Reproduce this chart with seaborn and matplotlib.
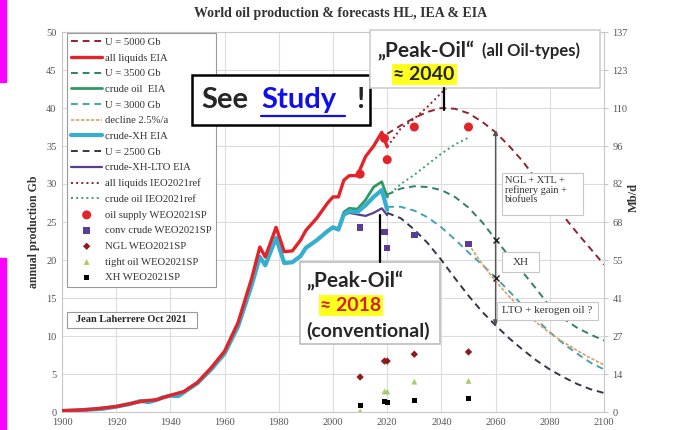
import matplotlib.pyplot as plt
import matplotlib.patches as mpatches
import numpy as np
import pandas as pd
import seaborn as sns

# ---- historic EIA series (Gb/a) ----
hist_years = [1900, 1905, 1910, 1915, 1920, 1925, 1929, 1932, 1935, 1937, 1940, 1943,
              1945, 1950, 1955, 1960, 1965, 1970, 1973, 1975, 1979, 1982, 1985, 1988,
              1990, 1994, 1998, 2000, 2002, 2004, 2006, 2009, 2012, 2015, 2018, 2020]
crude_xh = [0.15, 0.2, 0.32, 0.42, 0.7, 1.05, 1.45, 1.3, 1.6, 1.9, 2.15, 2.1,
            2.6, 3.8, 5.6, 7.7, 11.3, 16.7, 20.4, 19.3, 22.9, 19.6, 19.7, 20.5,
            21.6, 22.6, 23.8, 24.3, 24.0, 26.0, 26.4, 26.3, 27.2, 28.3, 29.2, 26.6]
crude_oil = [0.15, 0.2, 0.32, 0.42, 0.7, 1.05, 1.45, 1.3, 1.6, 1.9, 2.15, 2.1,
             2.6, 3.8, 5.6, 7.7, 11.3, 16.7, 20.4, 19.3, 22.9, 19.6, 19.7, 20.5,
             21.6, 22.6, 23.8, 24.3, 24.1, 26.3, 26.8, 26.7, 27.9, 29.6, 30.3, 28.3]
crude_xh_lto = [0.15, 0.2, 0.32, 0.42, 0.7, 1.05, 1.45, 1.3, 1.6, 1.9, 2.15, 2.1,
                2.6, 3.8, 5.6, 7.7, 11.3, 16.7, 20.4, 19.3, 22.9, 19.6, 19.7, 20.5,
                21.6, 22.6, 23.8, 24.3, 24.0, 25.9, 26.2, 26.0, 25.8, 26.2, 26.8, 25.9]
liq_years = [1900, 1910, 1920, 1930, 1935, 1940, 1945, 1950, 1955, 1960, 1965, 1970,
             1973, 1975, 1979, 1982, 1985, 1988, 1990, 1994, 1998, 2000, 2002, 2004,
             2006, 2009, 2012, 2015, 2018, 2020]
all_liquids = [0.15, 0.33, 0.72, 1.45, 1.62, 2.2, 2.7, 3.9, 5.8, 8.0, 11.8, 17.6,
               21.7, 20.4, 24.3, 21.1, 21.2, 22.6, 23.9, 25.5, 27.5, 28.3, 28.3, 30.5,
               31.1, 31.1, 33.6, 35.0, 36.8, 34.9]

# ---- Hubbert forecasts (Gb/a) ----
fc_years = [2020, 2025, 2030, 2035, 2040, 2045, 2050, 2055, 2060, 2065, 2070, 2075,
            2080, 2085, 2090, 2095, 2100]
u5000 = [36.6, 37.7, 38.7, 39.5, 40.0, 39.9, 39.3, 38.2, 36.8, 35.0, 33.0, 30.6,
         28.3, 25.8, 23.6, 21.5, 19.4]
u3500 = [28.6, 29.4, 29.7, 29.6, 29.2, 28.3, 26.9, 25.0, 22.7, 20.5, 18.4, 16.2,
         13.9, 12.3, 11.1, 10.2, 9.4]
u3000 = [27.0, 27.0, 26.5, 25.6, 24.3, 22.7, 21.0, 19.4, 17.7, 15.9, 14.0, 12.2,
         10.5, 9.0, 7.7, 6.5, 5.6]
u2500 = [26.2, 25.5, 24.0, 22.2, 20.0, 17.6, 15.3, 13.2, 11.4, 9.7, 8.2, 6.8,
         5.6, 4.6, 3.7, 3.0, 2.5]
decl_years = [2050, 2055, 2060, 2065, 2070, 2075, 2080, 2085, 2090, 2095, 2100]
decline = [22.1, 19.5, 17.2, 15.2, 13.4, 11.8, 10.4, 9.2, 8.1, 7.1, 6.2]

# ---- EIA IEO2021 reference ----
ieo_years = [2020, 2025, 2030, 2035, 2040, 2045, 2050]
ieo_liquids = [34.9, 37.3, 38.6, 40.2, 42.0, 43.6, 45.2]
ieo_crude = [28.3, 30.0, 31.2, 32.6, 34.0, 35.2, 36.1]

# ---- IEA WEO2021 stated policies ----
weo_years = [2010, 2019, 2020, 2030, 2050]
weo_supply = [31.3, 36.0, 33.2, 37.5, 37.5]
weo_conv = [24.3, 23.7, 21.6, 23.3, 22.1]
weo_ngl = [4.6, 6.7, 6.7, 7.6, 7.9]
weo_tight = [0.1, 2.7, 2.7, 4.0, 4.1]
weo_xh = [0.9, 1.4, 1.26, 1.5, 1.8]

# ---- axes ----
gb_ticks = [0, 5, 10, 15, 20, 25, 30, 35, 40, 45, 50]
mbd_labels = ["0", "14", "27", "41", "55", "68", "82", "96", "110", "123", "137"]
year_ticks = [1900, 1920, 1940, 1960, 1980, 2000, 2020, 2040, 2060, 2080, 2100]

legend_order = ["U = 5000 Gb", "all liquids EIA", "U = 3500 Gb", "crude oil  EIA",
                "U = 3000 Gb", "decline 2.5%/a", "crude-XH EIA", "U = 2500 Gb",
                "crude-XH-LTO EIA", "all liquids IEO2021ref", "crude oil IEO2021ref",
                "oil supply WEO2021SP", "conv crude WEO2021SP", "NGL WEO2021SP",
                "tight oil WEO2021SP", "XH WEO2021SP"]

sns.set_style("whitegrid")
plt.rcParams["font.family"] = ["Liberation Serif", "DejaVu Serif"]
SANS = ["Lato", "DejaVu Sans"]

fig = plt.figure(figsize=(6.82, 4.30), dpi=100)
ax = fig.add_axes([62 / 682, 1 - 412 / 430, 542 / 682, 380 / 430])

# historic
sns.lineplot(x=hist_years, y=crude_oil, ax=ax, color="#2e9a62", lw=2.0, label="crude oil  EIA", zorder=3)
sns.lineplot(x=hist_years, y=crude_xh_lto, ax=ax, color="#5b3d8c", lw=1.6, label="crude-XH-LTO EIA", zorder=3)
sns.lineplot(x=hist_years, y=crude_xh, ax=ax, color="#35aed0", lw=3.0, label="crude-XH EIA", zorder=4)
sns.lineplot(x=liq_years, y=all_liquids, ax=ax, color="#e2242a", lw=2.4, label="all liquids EIA", zorder=5)

# forecasts
dash = (0, (3.5, 2.5))
sns.lineplot(x=fc_years, y=u5000, ax=ax, color="#8e2430", lw=1.4, linestyle=dash, label="U = 5000 Gb", zorder=3)
sns.lineplot(x=fc_years, y=u3500, ax=ax, color="#2f7f6c", lw=1.4, linestyle=dash, label="U = 3500 Gb", zorder=3)
sns.lineplot(x=fc_years, y=u3000, ax=ax, color="#44a3ad", lw=1.4, linestyle=dash, label="U = 3000 Gb", zorder=3)
sns.lineplot(x=decl_years, y=decline, ax=ax, color="#d9a066", lw=1.2, linestyle=(0, (2, 1)), label="decline 2.5%/a", zorder=3)
sns.lineplot(x=fc_years, y=u2500, ax=ax, color="#33364a", lw=1.4, linestyle=dash, label="U = 2500 Gb", zorder=3)
sns.lineplot(x=ieo_years, y=ieo_liquids, ax=ax, color="#8e1f2c", lw=1.4, linestyle=":", label="all liquids IEO2021ref", zorder=3)
sns.lineplot(x=ieo_years, y=ieo_crude, ax=ax, color="#3a9f6e", lw=1.4, linestyle=":", label="crude oil IEO2021ref", zorder=3)

# WEO points
sns.scatterplot(x=weo_years, y=weo_supply, ax=ax, marker="o", s=42, color="#e2242a", edgecolor="none", label="oil supply WEO2021SP", zorder=6)
sns.scatterplot(x=weo_years, y=weo_conv, ax=ax, marker="s", s=22, color="#5b3d96", edgecolor="none", label="conv crude WEO2021SP", zorder=6)
sns.scatterplot(x=weo_years, y=weo_ngl, ax=ax, marker="D", s=14, color="#8e1a1a", edgecolor="none", label="NGL WEO2021SP", zorder=6)
sns.scatterplot(x=weo_years, y=weo_tight, ax=ax, marker="^", s=18, color="#a8cc6a", edgecolor="none", label="tight oil WEO2021SP", zorder=6)
sns.scatterplot(x=weo_years, y=weo_xh, ax=ax, marker="s", s=14, color="black", edgecolor="none", label="XH WEO2021SP", zorder=6)

ax.set_xlim(1900, 2100)
ax.set_ylim(0, 50)
ax.set_xticks(year_ticks)
ax.set_yticks(gb_ticks)
ax.set_xlabel("")
ax.set_ylabel("")
ax.grid(True, color="#dcdcdc", lw=0.8)
ax.tick_params(axis="both", labelsize=7.5, labelcolor="#555555", length=0, pad=4)
for sp in ax.spines.values():
    sp.set_color("#c8c8c8")
    sp.set_linewidth(0.8)

ax2 = ax.twinx()
ax2.set_ylim(0, 50)
ax2.set_yticks(gb_ticks)
ax2.set_yticklabels(mbd_labels)
ax2.grid(False)
ax2.tick_params(axis="y", labelsize=7.5, labelcolor="#555555", length=3, color="#c8c8c8", pad=3)
for sp in ax2.spines.values():
    sp.set_visible(False)

# legend
handles, labels = ax.get_legend_handles_labels()
lookup = dict(zip(labels, handles))
leg = ax.legend([lookup[k] for k in legend_order], legend_order, loc="upper left",
                bbox_to_anchor=(0.009, 0.997), borderaxespad=0, fontsize=7.7,
                handlelength=2.9, handletextpad=0.3, labelspacing=0.58, borderpad=0.4,
                fancybox=False, framealpha=1, edgecolor="#9a9a9a")
leg.get_frame().set_linewidth(0.8)
for t in leg.get_texts():
    t.set_color("#333333")
leg.set_zorder(8)


def box(x0, x1, y0, y1, ec="#bdbdbd", lw=1.0, z=9):
    ax.add_patch(mpatches.Rectangle((x0, y0), x1 - x0, y1 - y0, facecolor="white",
                                    edgecolor=ec, lw=lw, clip_on=False, zorder=z))


# author box
box(1902, 1949.8, 11.1, 13.2, ec="#9a9a9a", lw=0.8)
ax.text(1905, 12.15, "Jean Laherrere Oct 2021", fontsize=7.5, fontweight="bold",
        va="center", ha="left", zorder=10)

# See Study !
box(1948.0, 2013.7, 37.8, 44.3, ec="black", lw=1.8)
ax.text(1951.6, 41.0, "See", family=SANS, fontsize=21, fontweight="bold", va="center", zorder=10)
ax.text(1973.4, 41.0, "Study", family=SANS, fontsize=21, fontweight="bold", color="#1010ee",
        va="center", zorder=10)
ax.plot([1973.6, 2004.3], [38.9, 38.9], color="#1010ee", lw=1.6, zorder=10, clip_on=False)
ax.text(2008.4, 41.0, "!", family=SANS, fontsize=21, fontweight="bold", va="center", zorder=10)

# Peak-Oil 2040
box(2013.6, 2098.5, 42.6, 50.3, ec="#cfcfcf", lw=1.2)
ax.text(2016.3, 47.6, "\u201ePeak-Oil\u201c", family=SANS, fontsize=15, fontweight="bold",
        va="center", zorder=10)
ax.text(2055.0, 47.5, "(all Oil-types)", family=SANS, fontsize=12, fontweight="bold",
        va="center", zorder=10)
ax.text(2022.3, 44.4, "\u2248 2040", family=SANS, fontsize=14, fontweight="bold", va="center",
        zorder=10, bbox=dict(facecolor="#ffff20", edgecolor="none", pad=1.2))
ax.plot([2041, 2041], [42.6, 39.8], color="black", lw=1.6, zorder=10)

# Peak-Oil 2018
box(1987.8, 2039.5, 8.9, 19.7, ec="#bdbdbd", lw=1.2)
ax.text(1990.3, 17.3, "\u201ePeak-Oil\u201c", family=SANS, fontsize=15, fontweight="bold",
        va="center", zorder=10)
ax.text(1995.3, 14.0, "\u2248 2018", family=SANS, fontsize=14, fontweight="bold", color="#d42020",
        va="center", zorder=10, bbox=dict(facecolor="#ffff20", edgecolor="none", pad=1.2))
ax.text(1990.3, 10.6, "(conventional)", family=SANS, fontsize=14, fontweight="bold",
        va="center", zorder=10)
ax.plot([2017.3, 2017.3], [25.9, 19.7], color="black", lw=1.6, zorder=10)

# 2060 breakdown arrow
ax.annotate("", xy=(2060, 37.1), xytext=(2060, 11.4), zorder=7,
            arrowprops=dict(arrowstyle="<|-|>", color="#555555", lw=1.0,
                            mutation_scale=7, shrinkA=0, shrinkB=0))
ax.plot([2060, 2060], [22.6, 17.6], marker="x", ms=5, mew=1.0, color="#222222", lw=0, zorder=8)

box(2062.2, 2092.3, 25.9, 31.4, ec="#c8c8c8", lw=0.8, z=7)
ax.text(2063.6, 31.05, "NGL + XTL +\nrefinery gain +\nbiofuels", fontsize=7.5, va="top",
        linespacing=1.05, color="#333333", zorder=8)
box(2062.4, 2076.0, 18.4, 21.0, ec="#c8c8c8", lw=0.8, z=7)
ax.text(2069.2, 19.7, "XH", fontsize=8, ha="center", va="center", color="#333333", zorder=8)
box(2060.5, 2097.8, 12.1, 14.5, ec="#c8c8c8", lw=0.8, z=7)
ax.text(2079.1, 13.3, "LTO + kerogen oil ?", fontsize=8, ha="center", va="center",
        color="#333333", zorder=8)

# titles
fig.text(0.5, 1 - 14 / 430, "World oil production & forecasts HL, IEA & EIA", ha="center",
         va="center", fontsize=10, fontweight="bold", color="#333333")
fig.text(34 / 682, 1 - 232 / 430, "annual production Gb", rotation=90, ha="center",
         va="center", fontsize=8.5, fontweight="bold", color="#333333")
fig.text(634 / 682, 1 - 197 / 430, "Mb/d", rotation=90, ha="center", va="center",
         fontsize=9, fontweight="bold", color="#333333")

# magenta bars at left edge of the screenshot
fig.patches.append(mpatches.Rectangle((0, 1 - 82 / 430), 6 / 682, 82 / 430,
                                      transform=fig.transFigure, color="#ff00ff"))
fig.patches.append(mpatches.Rectangle((0, 0), 6 / 682, 172 / 430,
                                      transform=fig.transFigure, color="#ff00ff"))

fig.savefig("out.png", dpi=100)
